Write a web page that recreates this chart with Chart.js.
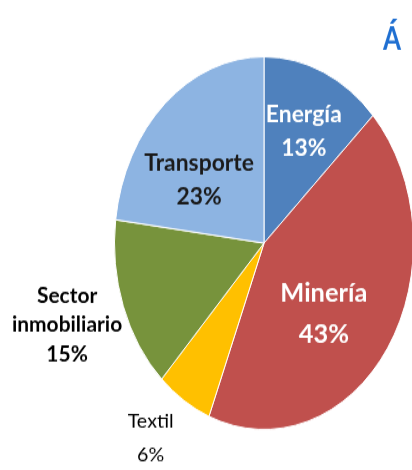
<!DOCTYPE html>
<html>
<head>
<meta charset="utf-8">
<script src="https://cdn.jsdelivr.net/npm/chart.js@4.4.0/dist/chart.umd.min.js"></script>
<style>
    html, body { margin: 0; padding: 0; background: #fff; overflow: hidden; width: 412px; height: 470px; }
    #wrap { position: absolute; left: 0; top: 0; width: 430px; height: 378px; transform: scaleY(1.2467); transform-origin: 0 0; }
</style>
</head>
<body>
<div id="wrap"><canvas id="pieChart" width="430" height="378"></canvas></div>
<script>
// Chart data
const titleText = 'Áreas';
const sectors = ['Energía', 'Minería', 'Textil', 'Sector inmobiliario', 'Transporte'];
const shares = [13, 43, 6, 15, 23];
const sliceColors = ['#4F81BD', '#C0504D', '#FFC000', '#77933C', '#8DB4E2'];

// Label placement: radius factor along slice middle, nudge, font, line height
const labelStyles = [
    { f: 0.62, dx: 3, dy: -4, size: 18, weight: 'bold', color: '#ffffff', lh: 26.5, lines: ['Energía'] },
    { f: 0.5, dx: -2, dy: 15, size: 20, weight: 'bold', color: '#ffffff', lh: 33, lines: ['Minería'] },
    { f: 1.24, dx: -14, dy: 0, size: 15.5, weight: 'normal', color: '#000000', lh: 26.5, lines: ['Textil'] },
    { f: 1.4, dx: 0, dy: -5, size: 16.5, weight: 'bold', color: '#000000', lh: 23.7, lines: ['Sector', 'inmobiliario'] },
    { f: 0.56, dx: -9.5, dy: 12.4, size: 18, weight: 'bold', color: '#1a1a1a', lh: 27.3, lines: ['Transporte'] }
];
const textStretch = 1.27;

// Draw slice labels and the (cut off) title
const pieLabels = {
    id: 'pieLabels',
    afterDatasetsDraw(chart) {
        const ctx = chart.ctx;
        const arcs = chart.getDatasetMeta(0).data;
        ctx.save();
        ctx.textAlign = 'center';
        ctx.textBaseline = 'middle';
        arcs.forEach((arc, i) => {
            const s = labelStyles[i];
            const mid = (arc.startAngle + arc.endAngle) / 2;
            const x = arc.x + Math.cos(mid) * arc.outerRadius * s.f + s.dx;
            const y = arc.y + Math.sin(mid) * arc.outerRadius * s.f + s.dy;
            const lines = s.lines.concat([shares[i] + '%']);
            ctx.font = `${s.weight} ${s.size}px Lato, "Open Sans", sans-serif`;
            ctx.fillStyle = s.color;
            const top = y - (lines.length - 1) * s.lh / 2;
            lines.forEach((t, k) => {
                ctx.save();
                ctx.translate(x, top + k * s.lh);
                ctx.scale(textStretch, 1);
                ctx.fillText(t, 0, 0);
                ctx.restore();
            });
        });
        // title, mostly outside the window
        ctx.textAlign = 'left';
        ctx.textBaseline = 'alphabetic';
        ctx.font = 'bold 26px Lato, sans-serif';
        ctx.letterSpacing = '10px';
        ctx.fillStyle = '#1F6FD1';
        ctx.fillText(titleText, 383, 39.5);
        ctx.restore();
    }
};

const ctx = document.getElementById('pieChart').getContext('2d');
new Chart(ctx, {
    type: 'pie',
    data: {
        labels: sectors,
        datasets: [{
            data: shares,
            backgroundColor: sliceColors,
            borderColor: '#ffffff',
            borderWidth: 1
        }]
    },
    options: {
        responsive: false,
        animation: false,
        layout: { padding: { left: 114, right: 16, top: 45, bottom: 33 } },
        plugins: {
            legend: { display: false },
            tooltip: { enabled: false }
        }
    },
    plugins: [pieLabels]
});
</script>
</body>
</html>
